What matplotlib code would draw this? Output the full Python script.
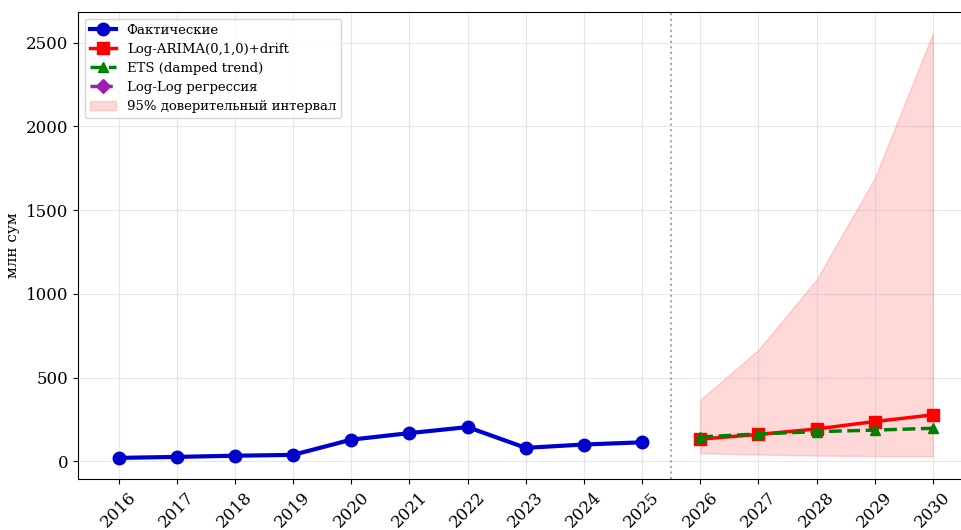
import numpy as np
import matplotlib.pyplot as plt

plt.rcParams['font.family'] = ['DejaVu Serif']

# фактические данные, млн сум
years_fact = [2016, 2017, 2018, 2019, 2020, 2021, 2022, 2023, 2024, 2025]
fact = [20, 26, 33, 38, 129, 168, 204, 80, 100, 113]

# прогнозы
years_fc = [2026, 2027, 2028, 2029, 2030]
arima = [132, 160, 193, 237, 277]
ets = [145, 163, 177, 186, 197]
loglog = [np.nan, np.nan, np.nan, np.nan, np.nan]
ci_low = [48, 40, 34, 31, 30]
ci_high = [367, 665, 1085, 1690, 2555]

fig = plt.figure(figsize=(9.62, 5.30), dpi=100)
ax = fig.add_axes([0.081, 0.096, 0.931, 0.881])

ax.plot(years_fact, fact, color='#0000cc', marker='o', linewidth=3, markersize=9,
        label='Фактические')
ax.plot(years_fc, arima, color='red', marker='s', linewidth=2.5, markersize=9,
        label='Log-ARIMA(0,1,0)+drift')
ax.plot(years_fc, ets, color='green', marker='^', linestyle='--', linewidth=2.5, markersize=7,
        label='ETS (damped trend)')
ax.plot(years_fc, loglog, color='#9b1fb0', marker='D', linestyle='-.', linewidth=2.5, markersize=7,
        label='Log-Log регрессия')
ax.fill_between(years_fc, ci_low, ci_high, color='red', alpha=0.15,
                label='95% доверительный интервал')

ax.axvline(2025.5, color='gray', linestyle=':', linewidth=1.5, alpha=0.7)

all_years = years_fact + years_fc
ax.set_xticks(all_years)
ax.set_xticklabels([str(y) for y in all_years], rotation=45, fontsize=12)
ax.tick_params(axis='y', labelsize=12)
ax.set_ylabel('млн сум', fontsize=11)
ax.grid(True, alpha=0.3)
ax.legend(loc='upper left', fontsize=9.5, handlelength=2.0, labelspacing=0.45)

fig.savefig('out.png', dpi=100)
